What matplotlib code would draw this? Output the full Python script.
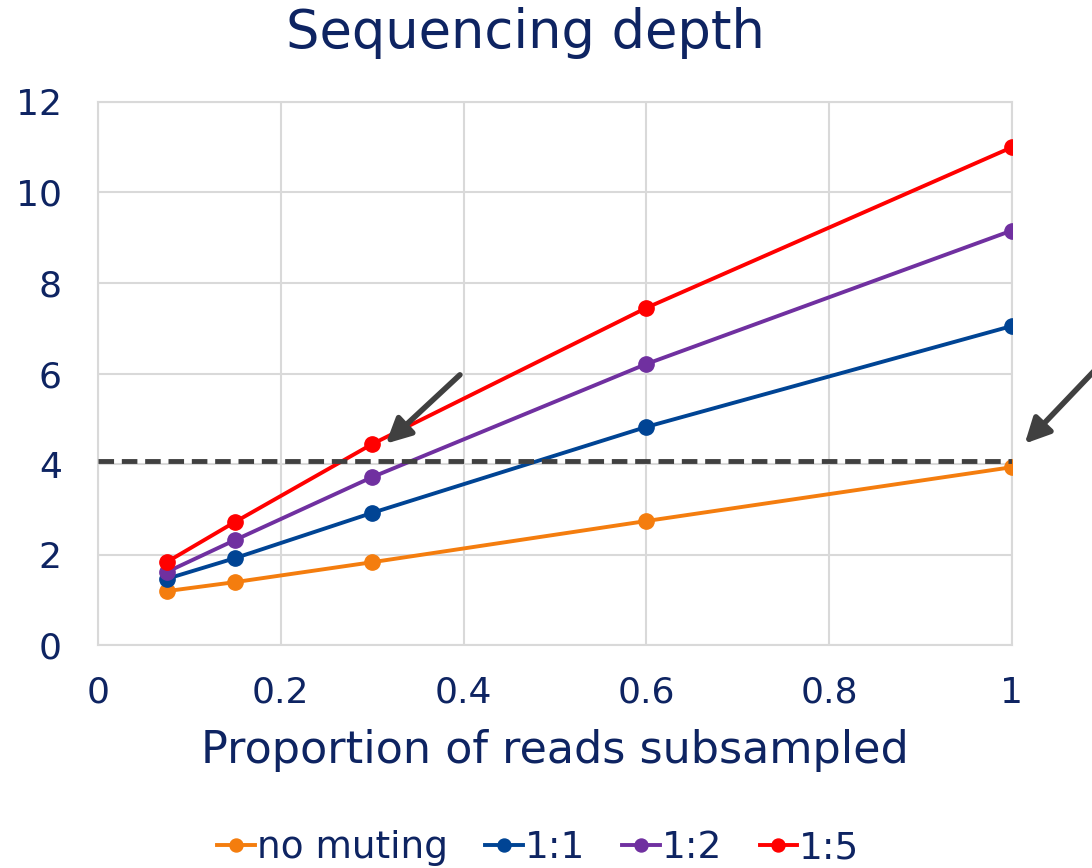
import numpy as np
import matplotlib.pyplot as plt

# data
proportion = [0.075, 0.15, 0.3, 0.6, 1.0]
no_muting = [1.19, 1.39, 1.83, 2.74, 3.93]
ratio_1_1 = [1.46, 1.92, 2.92, 4.82, 7.05]
ratio_1_2 = [1.61, 2.32, 3.71, 6.21, 9.16]
ratio_1_5 = [1.83, 2.72, 4.44, 7.45, 11.0]
threshold = 4.07

series = [
    ("no muting", no_muting, "#F47D0E"),
    ("1:1", ratio_1_1, "#004494"),
    ("1:2", ratio_1_2, "#7030A0"),
    ("1:5", ratio_1_5, "#FF0000"),
]

text_col = "#0E2462"
grid_col = "#D9D9D9"

fig = plt.figure(figsize=(10.92, 8.68), dpi=100)
ax = fig.add_axes([0.0897, 0.2569, 0.8370, 0.6256])

for name, vals, col in series:
    ax.plot(proportion, vals, color=col, lw=2.8, marker="o", ms=11, label=name,
            zorder=3)

# threshold line
ax.axhline(threshold, color="#404040", lw=3.5, ls=(0, (3.2, 1.6)), zorder=4)

# arrows
arrow_kw = dict(arrowstyle="-|>,head_length=1.5,head_width=0.75",
                color="#404040", lw=4, shrinkA=0, shrinkB=0)
ax.annotate("", xy=(0.315, 4.45), xytext=(0.396, 5.97), arrowprops=arrow_kw,
            annotation_clip=False)
ax.annotate("", xy=(1.014, 4.45), xytext=(1.092, 6.1), arrowprops=arrow_kw,
            annotation_clip=False)

ax.set_xlim(0, 1)
ax.set_ylim(0, 12)
ax.set_xticks([0, 0.2, 0.4, 0.6, 0.8, 1])
ax.set_xticklabels(["0", "0.2", "0.4", "0.6", "0.8", "1"])
ax.set_yticks(np.arange(0, 13, 2))
ax.grid(True, color=grid_col, lw=1.5)
ax.set_axisbelow(True)
for s in ax.spines.values():
    s.set_color(grid_col)
    s.set_linewidth(1.5)
ax.tick_params(length=0, labelsize=26, labelcolor=text_col)
ax.tick_params(axis="y", pad=26)
ax.tick_params(axis="x", pad=22)

fig.text(0.481, 0.962, "Sequencing depth", fontsize=38, color=text_col,
         ha="center", va="center")
ax.set_xlabel("Proportion of reads subsampled", fontsize=32, color=text_col,
              labelpad=14)

leg = fig.legend(loc="center", bbox_to_anchor=(0.493, 0.023), ncol=4,
                 frameon=False, fontsize=27, handlelength=1.0,
                 handletextpad=0.05, columnspacing=1.0, markerscale=0.85)
for t in leg.get_texts():
    t.set_color(text_col)

fig.savefig("out.png", dpi=100)
